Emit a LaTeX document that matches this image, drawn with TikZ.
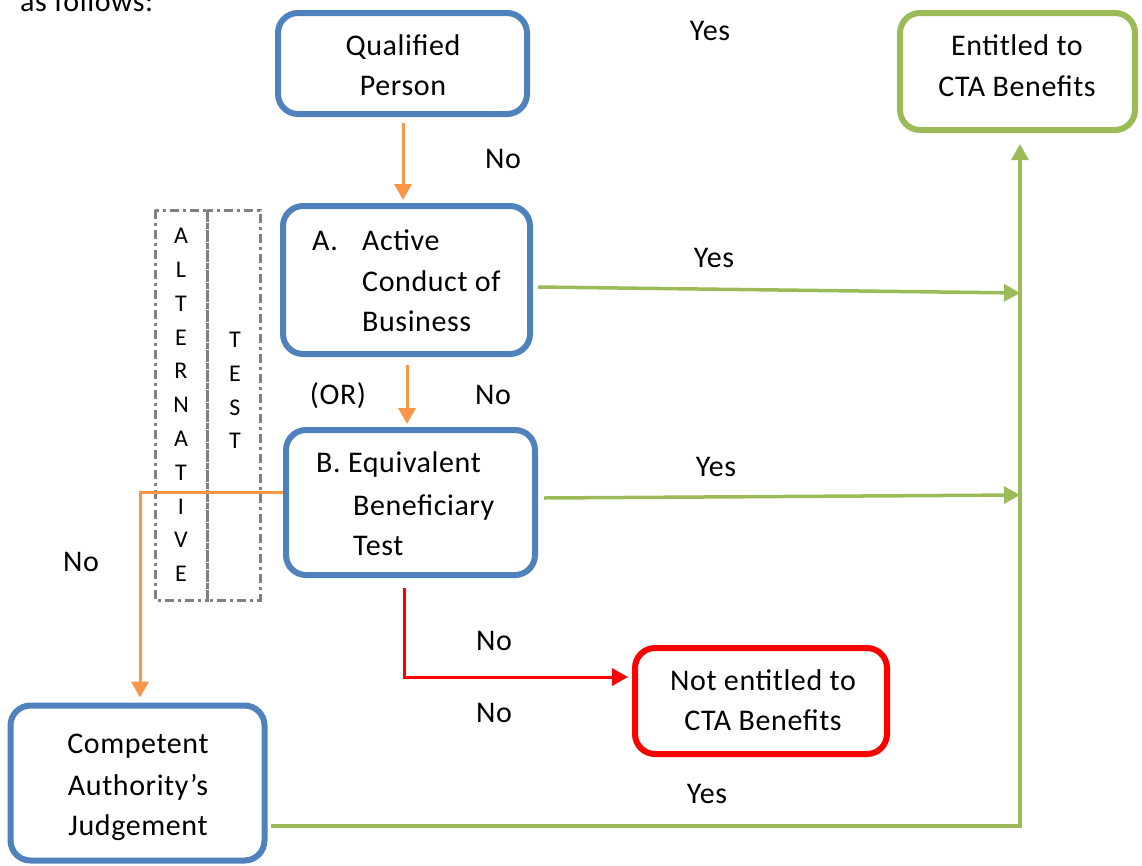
\documentclass[tikz,border=0pt]{standalone}
\usepackage{fontspec}
\setmainfont{Carlito}[LetterSpace=2]
\usetikzlibrary{arrows.meta,calc}
\definecolor{boxblue}{RGB}{79,129,189}
\definecolor{boxgreen}{RGB}{155,187,89}
\definecolor{arrorange}{RGB}{247,150,70}
\definecolor{boxred}{RGB}{255,0,0}
\definecolor{dashgrey}{RGB}{128,128,128}
\tikzset{
  box/.style={draw, line width=6pt, rounded corners=20pt, inner sep=0pt, fill=white},
  bluebox/.style={box, draw=boxblue},
  greenbox/.style={box, draw=boxgreen},
  redbox/.style={box, draw=boxred},
  txt/.style={anchor=base, inner sep=0pt, font=\fontsize{30}{40}\selectfont},
  ltxt/.style={anchor=base west, inner sep=0pt, font=\fontsize{30}{40}\selectfont},
  vtxt/.style={anchor=center, inner sep=0pt, font=\fontsize{24}{28}\selectfont},
  tip/.style={-{Triangle[length=16pt,width=17pt]}},
  oarrow/.style={tip, draw=arrorange, line width=3pt},
  garrow/.style={tip, draw=boxgreen, line width=3.5pt},
  rarrow/.style={tip, draw=boxred, line width=3pt},
  dashbox/.style={draw=dashgrey, line width=3pt, dash pattern=on 9pt off 4pt on 3pt off 4pt}
}
\begin{document}
\begin{tikzpicture}[x=1pt,y=-1pt]
\useasboundingbox (0,0) rectangle (1142,865);
% intro text (cut at the top, as in the reference)
\node[ltxt] (intro) at (20,11) {as follows:};
% dashed boxes
\draw[dashbox] (155,210) rectangle (207,600);
\draw[dashbox] (207,210) rectangle (260,600);
\foreach \ch [count=\i from 0] in {A,L,T,E,R,N,A,T,I,V,E}
  \node[vtxt] (alt\i) at (181,{236+\i*33.8}) {\ch};
\foreach \ch [count=\i from 0] in {T,E,S,T}
  \node[vtxt] (tst\i) at (235,{340+\i*33.7}) {\ch};
% boxes
\node[bluebox, minimum width=249pt, minimum height=101pt] (Q) at (402.5,63.5) {};
\node[greenbox, minimum width=235pt, minimum height=117pt] (E) at (1017.5,71.5) {};
\node[bluebox, minimum width=247pt, minimum height=148pt] (A) at (406.5,280) {};
\node[bluebox, minimum width=249pt, minimum height=145pt] (B) at (410.5,502.5) {};
\node[redbox, minimum width=252pt, minimum height=106pt] (N) at (761,701) {};
\node[bluebox, minimum width=254pt, minimum height=155pt] (C) at (137.5,783) {};
% box texts
\node[txt] (q1) at (403,55) {Qualified};
\node[txt] (q2) at (403,95) {Person};
\node[txt] (e1) at (1017,55) {Entitled to};
\node[txt] (e2) at (1017,96) {CTA Benefits};
\node[ltxt] (a0) at (312,250) {A.};
\node[ltxt] (a1) at (362,250) {Active};
\node[ltxt] (a2) at (362,291) {Conduct of};
\node[ltxt] (a3) at (362,331) {Business};
\node[ltxt] (b1) at (316,472) {B. Equivalent};
\node[ltxt] (b2) at (353,515) {Beneficiary};
\node[ltxt] (b3) at (353,555) {Test};
\node[txt] (n1) at (763,690) {Not entitled to};
\node[txt] (n2) at (763,730) {CTA Benefits};
\node[txt] (c1) at (138,753) {Competent};
\node[txt] (c2) at (138,795) {Authority’s};
\node[txt] (c3) at (138,835) {Judgement};
% coordinates
\coordinate (t1) at (1020,293);
\coordinate (t2) at (1020,495);
\coordinate (tc) at (1020,826);
\coordinate (ob) at (140,492);
\coordinate (rb) at (404,677);
% connectors
\draw[oarrow] ($(Q.south)+(0.5,6)$) -- ($(A.north)+(-3.5,-3)$);
\draw[oarrow] ($(A.south)+(0.5,8)$) -- ($(B.north)+(-3.5,-3)$);
\draw[oarrow] (B.west |- ob) -- (ob) -- ($(C.north -| ob)+(0,-5)$);
\draw[garrow] ($(A.east)+(5,7)$) -- (t1);
\draw[garrow] ($(B.east)+(6,-4.5)$) -- (t2);
\draw[garrow] ($(C.east |- tc)+(3,0)$) -- (tc) -- ($(E.south -| tc)+(0,11)$);
\draw[rarrow] ($(B.south)+(-6.5,10)$) -- (rb) -- ($(N.west |- rb)+(-4,0)$);
% labels
\node[txt] (l1) at (710,40) {Yes};
\node[txt] (l2) at (503,168) {No};
\node[txt] (l3) at (714,267) {Yes};
\node[txt] (l4) at (338,404) {(OR)};
\node[txt] (l5) at (493,404) {No};
\node[txt] (l6) at (716,476) {Yes};
\node[txt] (l7) at (81,571) {No};
\node[txt] (l8) at (494,650) {No};
\node[txt] (l9) at (494,722) {No};
\node[txt] (l10) at (707,803) {Yes};
\end{tikzpicture}
\end{document}
